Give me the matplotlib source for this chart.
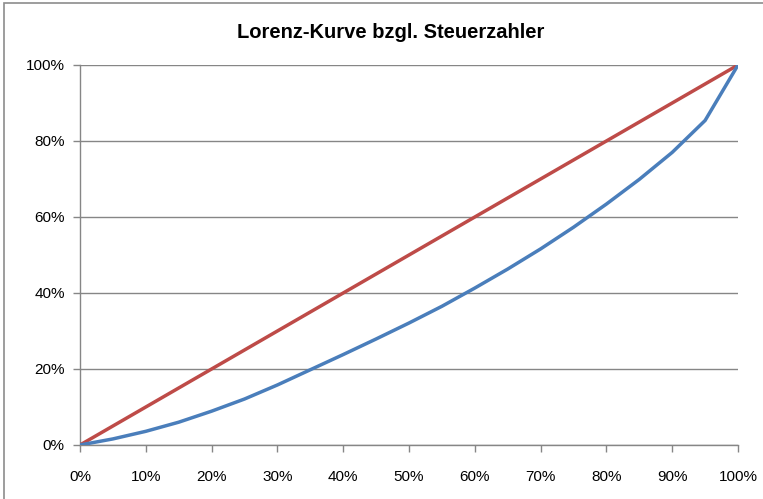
import matplotlib.pyplot as plt
from matplotlib.patches import Rectangle
from matplotlib.ticker import PercentFormatter

# Anteil der Steuerzahler (x) und Anteil am Steueraufkommen (y), in %
anteil_zahler = [0, 5, 10, 15, 20, 25, 30, 35, 40, 45, 50,
                 55, 60, 65, 70, 75, 80, 85, 90, 95, 100]
lorenz = [0, 1.6, 3.6, 6.0, 8.9, 12.1, 15.8, 19.8, 23.8, 27.9, 32.1,
          36.5, 41.3, 46.3, 51.6, 57.3, 63.4, 69.9, 77.0, 85.4, 100]
gleich_x = [0, 100]
gleichverteilung = [0, 100]

BLUE = "#4a7ebb"
RED = "#be4b48"
GRAY = "#868686"

plt.rcParams["font.family"] = ["Liberation Sans", "DejaVu Sans"]

fig = plt.figure(figsize=(7.63, 4.99), dpi=100)
ax = fig.add_axes([80 / 763, 54 / 499, 658 / 763, 380 / 499])

# Rahmen des Diagrammbereichs
fig.patches.append(Rectangle((4 / 763, -0.1), 1.2, 1.1 - 3 / 499,
                             transform=fig.transFigure, fill=False,
                             edgecolor="#8c8c8c", linewidth=1.2))

ax.plot(gleich_x, gleichverteilung, color=RED, linewidth=2.5,
        solid_capstyle="round", zorder=3)
ax.plot(anteil_zahler, lorenz, color=BLUE, linewidth=2.5,
        solid_joinstyle="round", solid_capstyle="round", zorder=4)

ax.set_xlim(0, 100)
ax.set_ylim(0, 100)
ax.set_xticks(range(0, 101, 10))
ax.set_yticks(range(0, 101, 20))
ax.xaxis.set_major_formatter(PercentFormatter(decimals=0))
ax.yaxis.set_major_formatter(PercentFormatter(decimals=0))

ax.grid(axis="y", color=GRAY, linewidth=1)
ax.set_axisbelow(True)
for s in ("top", "right"):
    ax.spines[s].set_visible(False)
for s in ("left", "bottom"):
    ax.spines[s].set_color(GRAY)
    ax.spines[s].set_linewidth(1)
ax.tick_params(direction="out", length=5, color=GRAY, width=1,
               labelsize=11, pad=6)
ax.tick_params(axis="x", pad=13)

fig.text(391 / 763, 1 - 32 / 499, "Lorenz-Kurve bzgl. Steuerzahler",
         ha="center", va="center", fontsize=14.5, fontweight="bold")

fig.savefig("out.png", dpi=100)
